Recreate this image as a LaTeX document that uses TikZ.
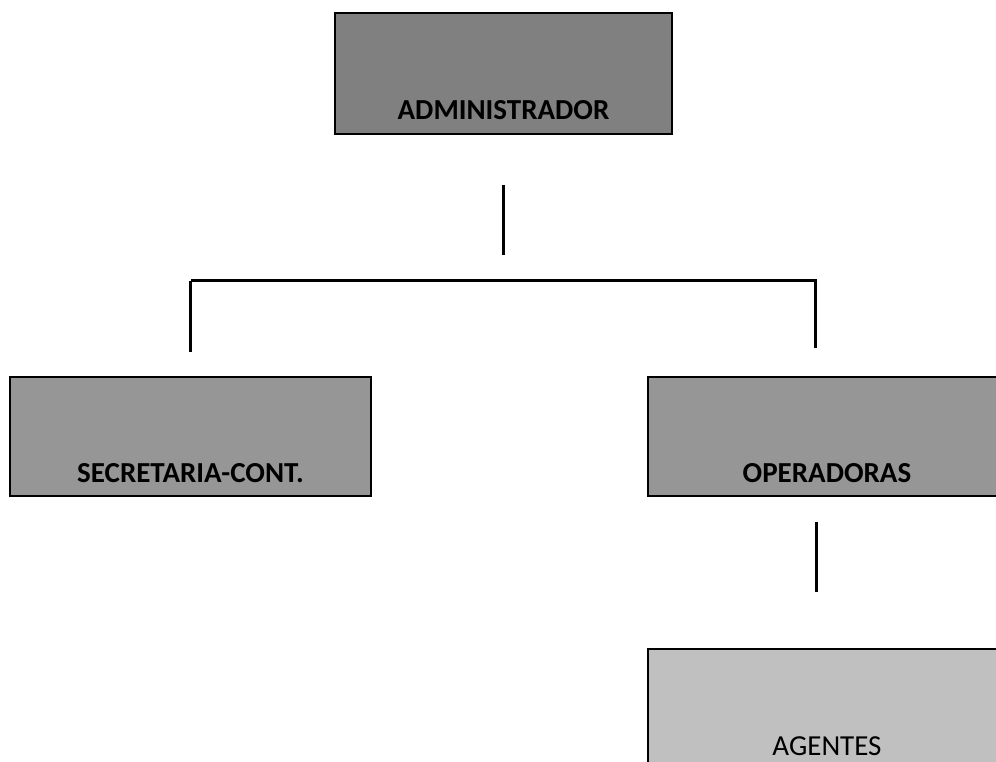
\documentclass[tikz,border=0pt]{standalone}
\usepackage{fontspec}
\setmainfont{Carlito}
\usetikzlibrary{positioning,calc}
\definecolor{topgray}{RGB}{128,128,128}
\definecolor{midgray}{RGB}{150,150,150}
\definecolor{lowgray}{RGB}{192,192,192}
\newcommand{\boxfont}{\fontsize{29}{34}\selectfont}

\begin{document}
\begin{tikzpicture}[x=1pt,y=-1pt,
  orgbox/.style={draw=black,line width=2pt,inner sep=0pt,anchor=north west,
    align=center,text depth=14pt,font=\boxfont},
  chief/.style={orgbox,fill=topgray,font=\boxfont\bfseries},
  unit/.style={orgbox,fill=midgray,font=\boxfont\bfseries},
  staff/.style={orgbox,fill=lowgray},
  link/.style={line width=3pt,line cap=butt}]

  \useasboundingbox (0,0) rectangle (996,762);
  \clip (0,0) rectangle (996,762);

  \node[chief,minimum width=337pt,text height=107pt] (admin) at (334,12)
    {ADMINISTRADOR};

  \node[unit,minimum width=361pt,text height=105pt] (secre) at (9,376)
    {SECRETARIA-CONT.};
  \node[unit,minimum width=358pt,text height=105pt] (oper) at (647,376)
    {OPERADORAS};

  \node[staff,minimum width=358pt,text height=106pt] (agent) at (647,648)
    {AGENTES};

  % stem and bus under the administrator
  \coordinate (stemtop) at (503,185);
  \coordinate (stembot) at (503,255);
  \coordinate (busleft) at (191,280);
  \coordinate (busright) at (815,280);
  \coordinate (dropl1) at (190,281);
  \coordinate (dropl2) at (190,352);
  \coordinate (dropr1) at (815,279);
  \coordinate (dropr2) at (815,348);
  \draw[link] (stemtop) -- (stembot);
  \draw[link] (busleft) -- (busright);
  \draw[link] (dropl1) -- (dropl2);
  \draw[link] (dropr1) -- (dropr2);

  % stem under the operators
  \coordinate (opstop) at (816,522);
  \coordinate (opsbot) at (816,592);
  \draw[link] (opstop) -- (opsbot);

\end{tikzpicture}
\end{document}
